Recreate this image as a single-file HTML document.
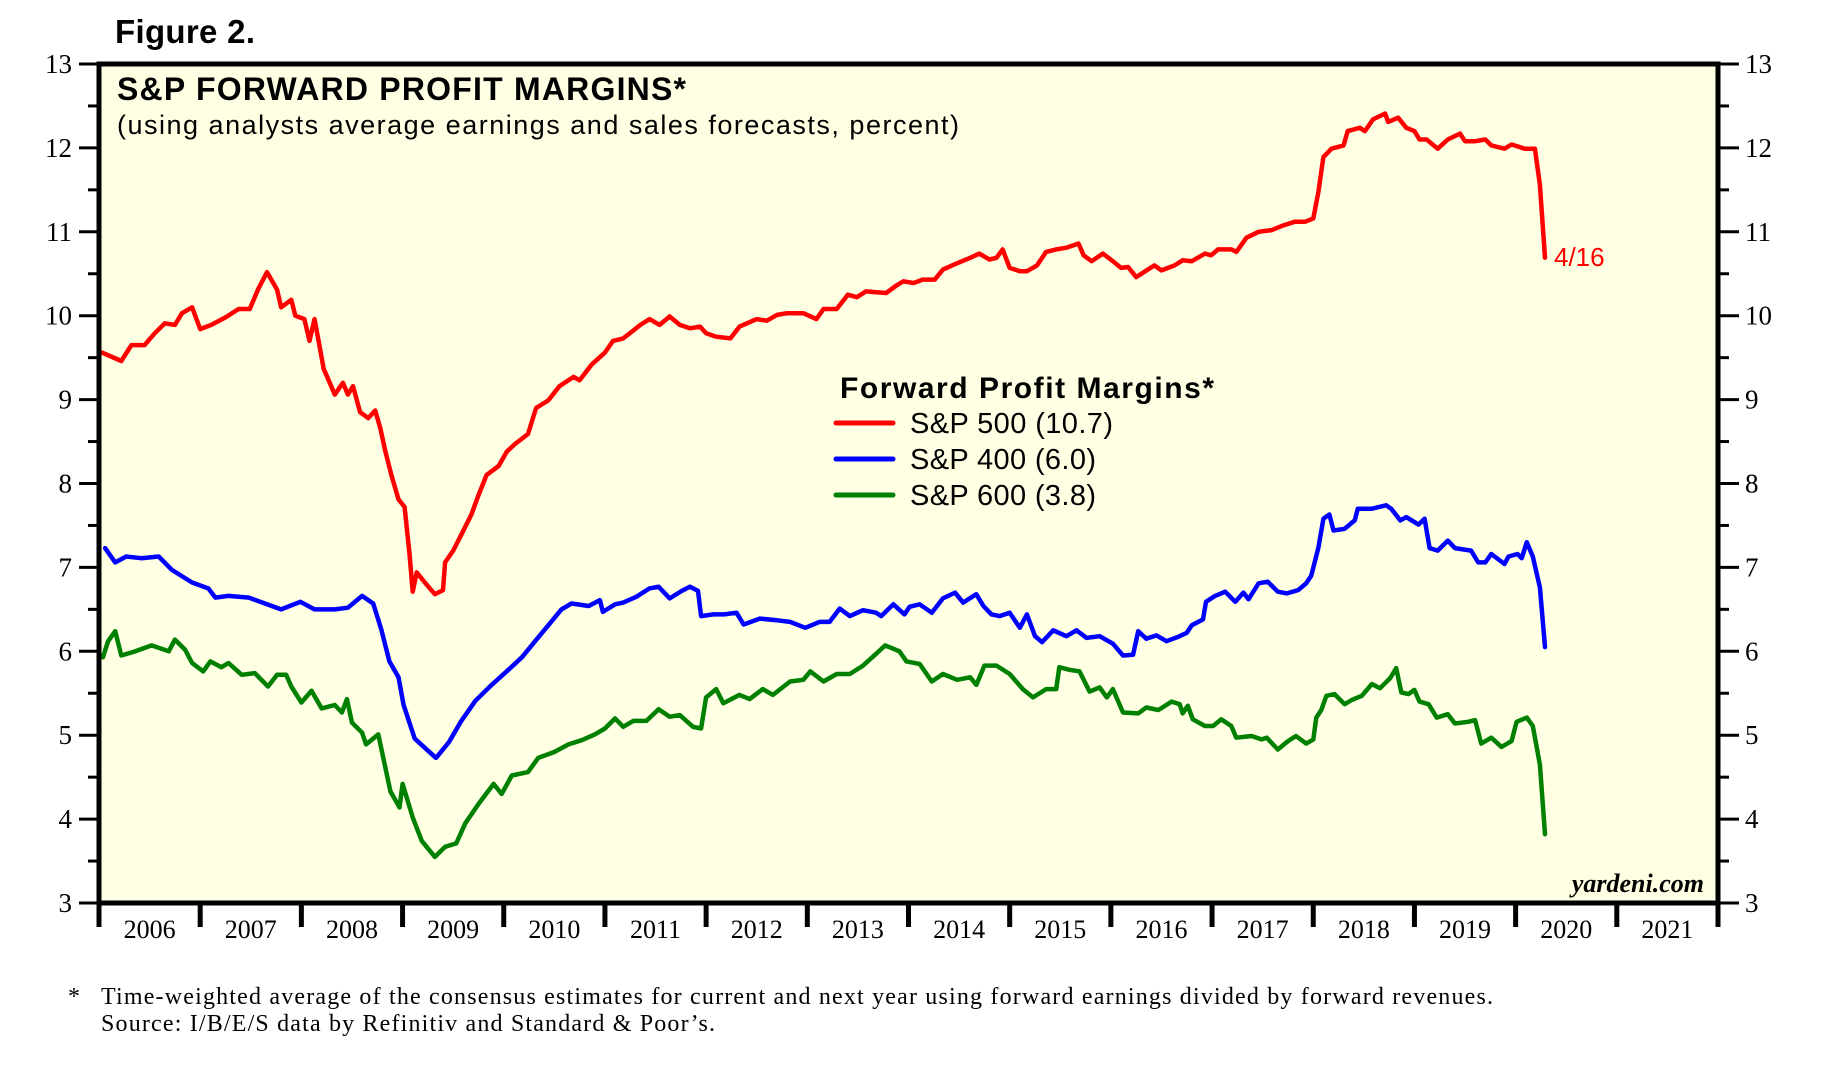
<!DOCTYPE html>
<html><head><meta charset="utf-8"><style>
html,body{margin:0;padding:0;background:#fff;}
svg{display:block;}
.sans{font-family:"Liberation Sans", Arial, sans-serif;}
.serif{font-family:"Liberation Serif", "Times New Roman", serif;}
</style></head><body>
<svg id="chart" width="1823" height="1068" viewBox="0 0 1823 1068" xmlns="http://www.w3.org/2000/svg">
<rect x="0" y="0" width="1823" height="1068" fill="#fff"/>
<text class="sans" x="115" y="43" font-weight="bold" font-size="33" textLength="140">Figure 2.</text>
<rect x="99" y="64" width="1619" height="839" fill="#ffffe4" stroke="none"/>
<g id="ticks"></g>
<g id="series"></g>
<rect x="99" y="64" width="1619" height="839" fill="none" stroke="#000" stroke-width="5"/>
<text class="sans" x="117" y="100" font-weight="bold" font-size="32" textLength="569">S&amp;P FORWARD PROFIT MARGINS*</text>
<text class="sans" x="117" y="134" font-size="27" textLength="842">(using analysts average earnings and sales forecasts, percent)</text>
<g>
<text class="sans" x="840" y="398" font-weight="bold" font-size="30" textLength="374">Forward Profit Margins*</text>
<line x1="836" y1="423" x2="893" y2="423" stroke="#ff0000" stroke-width="5" stroke-linecap="round"/>
<text class="sans" x="910" y="433" font-size="29" textLength="203">S&amp;P 500 (10.7)</text>
<line x1="836" y1="459" x2="893" y2="459" stroke="#0000ff" stroke-width="5" stroke-linecap="round"/>
<text class="sans" x="910" y="469" font-size="29" textLength="186">S&amp;P 400 (6.0)</text>
<line x1="836" y1="495" x2="893" y2="495" stroke="#008000" stroke-width="5" stroke-linecap="round"/>
<text class="sans" x="910" y="505" font-size="29" textLength="186">S&amp;P 600 (3.8)</text>
</g>
<text class="sans" x="1554" y="266" font-size="26" fill="#ff0000">4/16</text>
<text class="serif" x="1704" y="892" text-anchor="end" font-weight="bold" font-style="italic" font-size="26">yardeni.com</text>
<text class="serif" x="68" y="1004" font-size="24">*</text>
<text class="serif" x="101" y="1004" font-size="24" textLength="1392">Time-weighted average of the consensus estimates for current and next year using forward earnings divided by forward revenues.</text>
<text class="serif" x="101" y="1031" font-size="24" textLength="614">Source: I/B/E/S data by Refinitiv and Standard &amp; Poor’s.</text>
</svg>
<script>
const yTicks = [3,4,5,6,7,8,9,10,11,12,13];
const xYearLabels = ["2006","2007","2008","2009","2010","2011","2012","2013","2014","2015","2016","2017","2018","2019","2020","2021"];

const sp500Dates = [2006.03,2006.22,2006.32,2006.45,2006.55,2006.65,2006.75,2006.82,2006.92,2007.0,2007.11,2007.25,2007.38,2007.49,2007.57,2007.66,2007.76,2007.8,2007.9,2007.94,2008.03,2008.08,2008.13,2008.17,2008.22,2008.27,2008.33,2008.41,2008.46,2008.51,2008.58,2008.66,2008.73,2008.78,2008.83,2008.89,2008.96,2009.02,2009.07,2009.1,2009.14,2009.22,2009.32,2009.4,2009.42,2009.5,2009.58,2009.68,2009.75,2009.83,2009.95,2010.03,2010.11,2010.24,2010.32,2010.44,2010.55,2010.69,2010.75,2010.87,2011.0,2011.08,2011.18,2011.35,2011.44,2011.54,2011.64,2011.74,2011.84,2011.94,2012.0,2012.1,2012.24,2012.33,2012.5,2012.6,2012.7,2012.8,2012.96,2013.09,2013.16,2013.29,2013.4,2013.49,2013.58,2013.68,2013.78,2013.88,2013.95,2014.05,2014.14,2014.26,2014.34,2014.47,2014.61,2014.7,2014.8,2014.87,2014.93,2015.0,2015.1,2015.17,2015.27,2015.36,2015.46,2015.56,2015.68,2015.73,2015.81,2015.92,2016.02,2016.1,2016.17,2016.25,2016.34,2016.43,2016.5,2016.63,2016.71,2016.8,2016.93,2016.99,2017.06,2017.19,2017.24,2017.34,2017.46,2017.59,2017.69,2017.82,2017.92,2018.0,2018.05,2018.1,2018.18,2018.3,2018.34,2018.46,2018.51,2018.59,2018.71,2018.74,2018.84,2018.92,2019.0,2019.05,2019.12,2019.23,2019.33,2019.45,2019.5,2019.6,2019.7,2019.76,2019.89,2019.96,2020.09,2020.19,2020.24,2020.29];
const sp500Values = [9.56,9.46,9.65,9.65,9.79,9.91,9.89,10.03,10.1,9.84,9.89,9.98,10.08,10.08,10.31,10.52,10.31,10.1,10.19,10.0,9.96,9.7,9.96,9.7,9.37,9.23,9.06,9.2,9.06,9.16,8.85,8.78,8.87,8.66,8.38,8.1,7.81,7.72,7.15,6.71,6.94,6.82,6.68,6.73,7.06,7.2,7.39,7.63,7.86,8.1,8.21,8.38,8.47,8.59,8.9,8.99,9.16,9.27,9.23,9.42,9.56,9.7,9.73,9.89,9.96,9.89,9.99,9.89,9.85,9.87,9.79,9.75,9.73,9.87,9.96,9.94,10.01,10.03,10.03,9.96,10.08,10.08,10.25,10.22,10.29,10.28,10.27,10.36,10.41,10.39,10.43,10.43,10.55,10.62,10.69,10.74,10.67,10.69,10.79,10.57,10.53,10.53,10.6,10.76,10.79,10.81,10.86,10.72,10.65,10.74,10.65,10.57,10.58,10.46,10.53,10.6,10.54,10.6,10.66,10.65,10.74,10.72,10.79,10.79,10.76,10.93,11.0,11.02,11.07,11.12,11.12,11.16,11.47,11.89,11.99,12.03,12.2,12.24,12.2,12.34,12.41,12.31,12.36,12.24,12.2,12.1,12.1,11.99,12.1,12.17,12.08,12.08,12.1,12.03,11.99,12.04,11.99,11.99,11.56,10.69];

const sp400Dates = [2006.06,2006.16,2006.27,2006.42,2006.59,2006.72,2006.92,2007.08,2007.15,2007.28,2007.48,2007.64,2007.8,2007.99,2008.13,2008.33,2008.46,2008.6,2008.71,2008.79,2008.87,2008.96,2009.01,2009.12,2009.22,2009.33,2009.46,2009.58,2009.72,2009.88,2010.01,2010.18,2010.31,2010.44,2010.57,2010.67,2010.84,2010.95,2010.98,2011.1,2011.18,2011.31,2011.44,2011.53,2011.64,2011.76,2011.84,2011.92,2011.95,2012.07,2012.18,2012.3,2012.37,2012.53,2012.7,2012.83,2012.98,2013.12,2013.22,2013.32,2013.42,2013.55,2013.68,2013.73,2013.85,2013.96,2014.01,2014.11,2014.23,2014.34,2014.46,2014.54,2014.67,2014.74,2014.82,2014.9,2015.0,2015.1,2015.17,2015.25,2015.32,2015.43,2015.56,2015.66,2015.76,2015.89,2016.02,2016.12,2016.22,2016.27,2016.35,2016.45,2016.55,2016.66,2016.75,2016.8,2016.91,2016.94,2017.03,2017.13,2017.23,2017.31,2017.36,2017.46,2017.55,2017.65,2017.74,2017.85,2017.93,2017.98,2018.05,2018.1,2018.16,2018.2,2018.31,2018.41,2018.44,2018.58,2018.72,2018.77,2018.86,2018.92,2019.04,2019.1,2019.15,2019.23,2019.33,2019.4,2019.56,2019.63,2019.7,2019.76,2019.89,2019.93,2020.02,2020.06,2020.11,2020.17,2020.24,2020.29];
const sp400Values = [7.23,7.06,7.13,7.11,7.13,6.97,6.82,6.75,6.64,6.66,6.64,6.57,6.5,6.59,6.5,6.5,6.52,6.66,6.57,6.26,5.88,5.69,5.36,4.96,4.85,4.73,4.92,5.17,5.41,5.6,5.74,5.93,6.12,6.31,6.5,6.57,6.54,6.61,6.47,6.56,6.58,6.65,6.75,6.77,6.63,6.72,6.77,6.72,6.42,6.44,6.44,6.46,6.32,6.39,6.37,6.35,6.28,6.35,6.35,6.51,6.42,6.49,6.46,6.42,6.56,6.44,6.53,6.56,6.46,6.63,6.7,6.58,6.68,6.54,6.44,6.42,6.46,6.28,6.44,6.18,6.11,6.25,6.18,6.25,6.16,6.18,6.09,5.95,5.96,6.24,6.15,6.19,6.12,6.17,6.22,6.31,6.38,6.59,6.66,6.71,6.59,6.7,6.62,6.81,6.83,6.71,6.69,6.73,6.81,6.9,7.23,7.58,7.63,7.44,7.46,7.56,7.7,7.7,7.74,7.7,7.56,7.6,7.51,7.58,7.23,7.2,7.32,7.23,7.2,7.06,7.06,7.16,7.04,7.13,7.16,7.11,7.3,7.13,6.76,6.05];

const sp600Dates = [2006.04,2006.09,2006.16,2006.22,2006.36,2006.52,2006.69,2006.75,2006.85,2006.92,2007.03,2007.1,2007.21,2007.28,2007.41,2007.54,2007.67,2007.76,2007.85,2007.9,2008.0,2008.1,2008.2,2008.33,2008.4,2008.45,2008.5,2008.6,2008.64,2008.76,2008.88,2008.97,2009.0,2009.1,2009.19,2009.32,2009.42,2009.53,2009.62,2009.75,2009.9,2009.98,2010.08,2010.24,2010.34,2010.5,2010.64,2010.77,2010.9,2011.0,2011.1,2011.18,2011.28,2011.41,2011.53,2011.64,2011.74,2011.87,2011.95,2012.0,2012.1,2012.17,2012.33,2012.43,2012.56,2012.66,2012.83,2012.96,2013.03,2013.16,2013.29,2013.42,2013.55,2013.68,2013.77,2013.91,2013.98,2014.11,2014.23,2014.34,2014.48,2014.61,2014.67,2014.75,2014.87,2015.0,2015.13,2015.23,2015.36,2015.46,2015.49,2015.59,2015.69,2015.79,2015.89,2015.96,2016.02,2016.12,2016.27,2016.35,2016.47,2016.6,2016.68,2016.71,2016.76,2016.81,2016.93,2017.01,2017.09,2017.19,2017.24,2017.39,2017.49,2017.54,2017.65,2017.75,2017.83,2017.93,2018.0,2018.03,2018.08,2018.13,2018.21,2018.31,2018.38,2018.48,2018.58,2018.66,2018.76,2018.82,2018.87,2018.94,2019.0,2019.05,2019.14,2019.22,2019.33,2019.4,2019.53,2019.6,2019.66,2019.76,2019.86,2019.96,2020.01,2020.11,2020.17,2020.24,2020.29];
const sp600Values = [5.93,6.12,6.24,5.95,6.0,6.07,6.0,6.14,6.02,5.86,5.76,5.88,5.81,5.86,5.72,5.74,5.58,5.72,5.72,5.58,5.39,5.53,5.32,5.36,5.27,5.43,5.15,5.03,4.89,5.01,4.33,4.14,4.42,4.02,3.74,3.55,3.67,3.71,3.95,4.18,4.42,4.3,4.52,4.56,4.73,4.8,4.89,4.94,5.01,5.08,5.2,5.1,5.17,5.17,5.31,5.22,5.24,5.1,5.08,5.45,5.55,5.38,5.48,5.43,5.55,5.48,5.64,5.66,5.76,5.64,5.73,5.73,5.83,5.97,6.07,6.0,5.88,5.85,5.64,5.73,5.66,5.69,5.6,5.83,5.83,5.73,5.55,5.45,5.55,5.55,5.81,5.78,5.76,5.52,5.57,5.45,5.55,5.27,5.26,5.33,5.3,5.4,5.37,5.26,5.35,5.19,5.11,5.11,5.19,5.11,4.97,4.99,4.95,4.97,4.83,4.93,4.99,4.9,4.95,5.21,5.3,5.47,5.49,5.37,5.42,5.47,5.61,5.56,5.68,5.8,5.51,5.49,5.54,5.4,5.37,5.21,5.25,5.14,5.16,5.18,4.9,4.97,4.86,4.93,5.16,5.21,5.11,4.65,3.82];

const NS = "http://www.w3.org/2000/svg";
const X0 = 99, X1 = 1718, Y0 = 903, Y1 = 64;
const YEAR_START = 2006, YEAR_END = 2022, VMIN = 3, VMAX = 13;
function xScale(t){ return X0 + (t - YEAR_START) / (YEAR_END - YEAR_START) * (X1 - X0); }
function yScale(v){ return Y0 - (v - VMIN) / (VMAX - VMIN) * (Y0 - Y1); }

const ticks = document.getElementById('ticks');
function mk(tag, attrs, parent){
  const e = document.createElementNS(NS, tag);
  for (const k in attrs) e.setAttribute(k, attrs[k]);
  parent.appendChild(e);
  return e;
}
yTicks.forEach((v, i) => {
  const y = yScale(v);
  const l = mk('line', {x1: X0 - 20, x2: X0, y1: y, y2: y, stroke: '#000', 'stroke-width': 3}, ticks);
  
  
  const r = mk('line', {x1: X1, x2: X1 + 21, y1: y, y2: y, stroke: '#000', 'stroke-width': 3}, ticks);
  
  
  const tl = mk('text', {x: 72, y: y + 9, 'text-anchor': 'end', 'class': 'serif', 'font-size': 27}, ticks);
  tl.textContent = String(v);
  
  
  const tr = mk('text', {x: 1745, y: y + 9, 'class': 'serif', 'font-size': 27}, ticks);
  tr.textContent = String(v);
  
  
  if (i < yTicks.length - 1) {
    const ym = yScale(v + 0.5);
    const ml = mk('line', {x1: X0 - 11, x2: X0, y1: ym, y2: ym, stroke: '#000', 'stroke-width': 3}, ticks);
    
    
    const mr = mk('line', {x1: X1, x2: X1 + 11, y1: ym, y2: ym, stroke: '#000', 'stroke-width': 3}, ticks);
    
    
  }
});
for (let k = 0; k <= xYearLabels.length; k++) {
  const x = xScale(YEAR_START + k);
  const t = mk('line', {x1: x, x2: x, y1: Y0, y2: Y0 + 24, stroke: '#000', 'stroke-width': 5}, ticks);
  
  
  if (k < xYearLabels.length) {
    const lab = mk('text', {x: xScale(YEAR_START + k + 0.5), y: 938, 'text-anchor': 'middle', 'class': 'serif', 'font-size': 26}, ticks);
    lab.textContent = xYearLabels[k];
    
    
  }
}

const seriesG = document.getElementById('series');
function drawLine(dates, vals, color, name){
  let d = '';
  dates.forEach((t, i) => { d += (i ? 'L' : 'M') + xScale(t).toFixed(1) + ',' + yScale(vals[i]).toFixed(1); });
  const p = mk('path', {d: d, fill: 'none', stroke: color, 'stroke-width': 4.5, 'stroke-linejoin': 'round', 'stroke-linecap': 'round'}, seriesG);
  
  
}
drawLine(sp600Dates, sp600Values, '#008000', 'sp600-line');
drawLine(sp400Dates, sp400Values, '#0000ff', 'sp400-line');
drawLine(sp500Dates, sp500Values, '#ff0000', 'sp500-line');
</script>
</body></html>
